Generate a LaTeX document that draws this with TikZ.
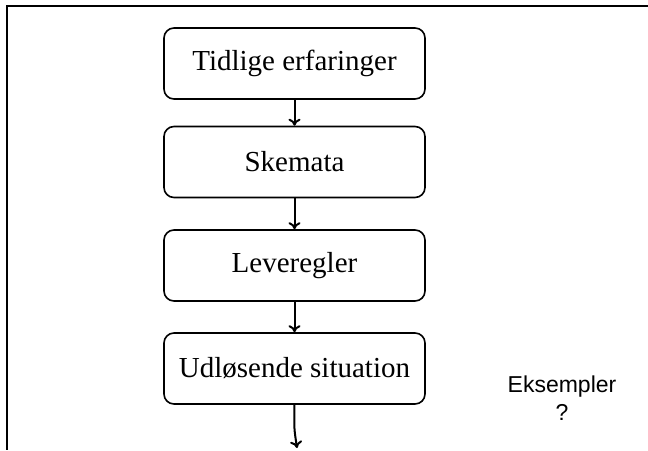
\documentclass[tikz,border=0pt]{standalone}
\usepackage{fontspec}
\setmainfont{Liberation Serif}
\newfontfamily\arialfont{Liberation Sans}
\usetikzlibrary{arrows.meta}
\tikzset{
  flowbox/.style={draw, line width=1.6pt, rounded corners=10pt, minimum width=261pt, minimum height=71pt, inner sep=0pt, font=\fontsize{29}{32}\selectfont},
  flowarrow/.style={line width=2pt, -{To[length=7pt,width=12pt,line width=2pt]}},
  frameline/.style={line width=2.6pt}
}
\begin{document}
\begin{tikzpicture}[x=1pt,y=-1pt]
\useasboundingbox (0,0) rectangle (648,450);
\coordinate (ftr) at (648,6);
\coordinate (ftl) at (7,6);
\coordinate (fbl) at (7,450);
\draw[frameline] (ftr) -- (ftl) -- (fbl);
\node[flowbox] (b1) at (294.5,63.5) {Tidlige erfaringer};
\node[flowbox] (b2) at (294.5,162) {Skemata};
\node[flowbox] (b3) at (294.5,265.5) {Leveregler};
\node[flowbox] (b4) at (294.5,368.5) {Udløsende situation};
\coordinate (end) at (297,448);
\draw[flowarrow] (b1.south) -- (b2.north);
\draw[flowarrow] (b2.south) -- (b3.north);
\draw[flowarrow] (b3.south) -- (b4.north);
\draw[flowarrow] (b4.south) .. controls (294,428) .. (end);
\node[align=center, font=\arialfont\fontsize{23}{28}\selectfont, inner sep=0pt] (ex) at (562,398) {Eksempler\\?};
\end{tikzpicture}
\end{document}
